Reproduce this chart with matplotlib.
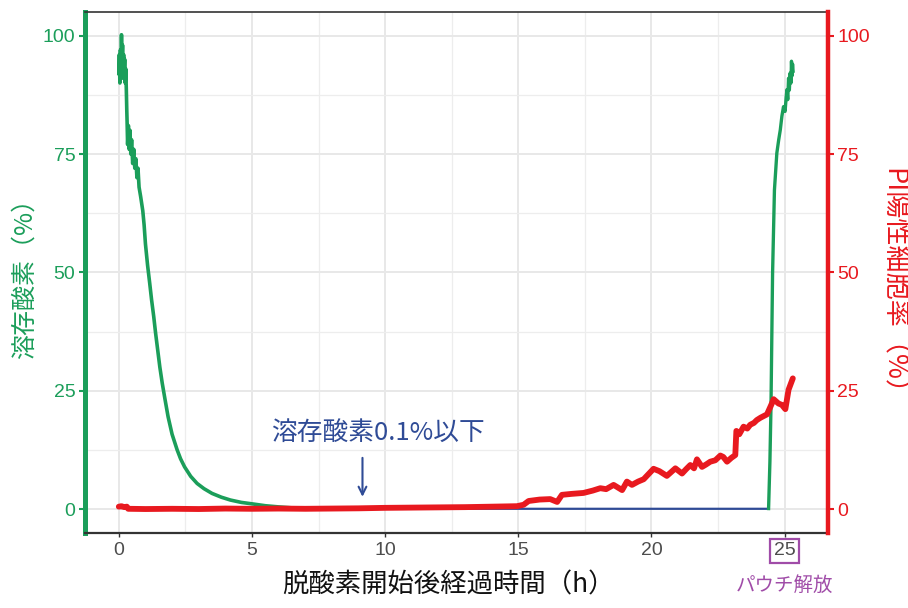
import matplotlib
matplotlib.use("Agg")
import matplotlib.pyplot as plt
import numpy as np

plt.rcParams['font.family'] = ['Noto Sans CJK JP', 'DejaVu Sans']

# ---- data ----
do_decay_t = [0.00, 0.02, 0.04, 0.06, 0.08, 0.10, 0.12, 0.14, 0.16, 0.18, 0.20, 0.22, 0.24, 0.26,
              0.28, 0.30, 0.31, 0.33, 0.36, 0.39, 0.42, 0.45, 0.48, 0.52, 0.56, 0.60, 0.64, 0.68,
              0.72, 0.76, 0.82, 0.90, 0.95, 1.00, 1.08, 1.16, 1.23, 1.31, 1.38, 1.46, 1.54, 1.63,
              1.74, 1.85, 2.00, 2.19, 2.32, 2.47, 2.70, 2.94, 3.20, 3.50, 3.85, 4.19, 4.60, 5.06,
              5.50, 6.00, 6.50, 6.90]
do_decay_v = [92, 96, 90, 97, 93, 100.2, 94, 98, 91, 96, 92, 95, 90, 93,
              89, 84, 82, 77, 81, 76, 80, 75, 78, 73, 76, 72, 74, 70,
              72, 68, 66, 63, 60, 56, 51.5, 47.7, 44.2, 40.7, 37.2, 33.6, 30.0, 26.6,
              23.0, 19.5, 15.8, 12.5, 10.6, 8.9, 6.9, 5.4, 4.3, 3.3, 2.5, 1.9, 1.4, 1.05,
              0.7, 0.45, 0.25, 0.15]

do_low_t = [6.90, 10.0, 15.0, 20.0, 24.40]
do_low_v = [0.08, 0.06, 0.05, 0.05, 0.05]

do_rise_t = [24.40, 24.45, 24.49, 24.55, 24.62, 24.71, 24.78, 24.84, 24.90, 24.96, 25.02, 25.06,
             25.09, 25.12, 25.15, 25.18, 25.21, 25.24, 25.26, 25.28, 25.30, 25.32]
do_rise_v = [0.1, 10, 21.6, 49.8, 67.4, 75.2, 78, 80.1, 83, 85, 84, 87,
             88.6, 86.5, 91, 88.5, 92.1, 90, 94.6, 91.5, 94, 92.5]

pi_t = [0.0, 0.1, 0.2, 0.3, 0.35, 1, 2, 3, 4, 5, 6, 7, 8, 9, 10, 11, 12, 13, 14, 14.95,
        15.2, 15.39, 15.8, 16.2, 16.46, 16.64, 17.0, 17.45, 17.8, 18.08, 18.3, 18.58, 18.9,
        19.08, 19.27, 19.5, 19.71, 20.08, 20.3, 20.58, 20.9, 21.15, 21.3, 21.46, 21.6, 21.71,
        21.9, 22.05, 22.21, 22.4, 22.59, 22.7, 22.84, 23.0, 23.15, 23.19, 23.3, 23.46, 23.6,
        23.71, 23.85, 23.96, 24.1, 24.34, 24.5, 24.59, 24.77, 24.9, 25.03, 25.15, 25.31]
pi_v = [0.5, 0.6, 0.4, 0.5, 0.05, 0.0, 0.05, 0.0, 0.1, 0.05, 0.1, 0.05, 0.1, 0.15, 0.25, 0.3,
        0.35, 0.4, 0.5, 0.6,
        0.9, 1.7, 2.0, 2.1, 1.5, 3.0, 3.2, 3.4, 3.9, 4.4, 4.2, 5.1, 4.0,
        5.8, 5.1, 5.8, 6.3, 8.5, 8.0, 7.0, 8.6, 7.5, 8.4, 9.3, 8.6, 10.5,
        8.9, 9.4, 10.0, 10.3, 11.3, 11.0, 10.0, 10.8, 11.4, 16.5, 15.8, 17.4, 17.0,
        17.8, 18.2, 18.8, 19.3, 20.0, 22.0, 23.2, 22.3, 22.0, 21.1, 25.2, 27.6]

y_ticks = [0, 25, 50, 75, 100]
y_minor = [12.5, 37.5, 62.5, 87.5]
x_ticks = [0, 5, 10, 15, 20, 25]
x_minor = [2.5, 7.5, 12.5, 17.5, 22.5]

GREEN = '#1b9e5a'
RED = '#e8191f'
BLUE = '#2f4b96'
PURPLE = '#a04ca8'
GRAY = '#4d4d4d'

fig = plt.figure(figsize=(9.08, 6.08), dpi=100)
ax = fig.add_axes([85/908, 1-532.7/608, (827.7-85)/908, (532.7-12)/608])

# grid
ax.set_xticks(x_ticks)
ax.set_xticks(x_minor, minor=True)
ax.set_yticks(y_ticks)
ax.set_yticks(y_minor, minor=True)
ax.set_xlim(-1.27, 26.62)
ax.set_ylim(-5, 105)
ax.grid(which='major', color='#e8e8e8', lw=1.4, zorder=0)
ax.grid(which='minor', color='#ededed', lw=0.9, zorder=0)
ax.set_axisbelow(True)

ax.plot(do_decay_t, do_decay_v, color=GREEN, lw=2.6, solid_joinstyle='round', zorder=3)
ax.plot(do_low_t, do_low_v, color=BLUE, lw=1.6, zorder=3)
ax.plot(do_rise_t, do_rise_v, color=GREEN, lw=2.4, solid_joinstyle='round', zorder=3)
ax.plot(pi_t, pi_v, color=RED, lw=4.2, solid_joinstyle='round', solid_capstyle='round', zorder=4)

# annotation
ax.text(9.73, 16.1, '溶存酸素0.1%以下', color=BLUE, fontsize=18.5, ha='center', va='center', zorder=5)
ax.annotate('', xy=(9.15, 2.0), xytext=(9.15, 11.4),
            arrowprops=dict(arrowstyle='->', color=BLUE, lw=1.5, mutation_scale=14), zorder=5)

# spines
for s in ['top', 'bottom']:
    ax.spines[s].set_color('#333333')
ax.spines['top'].set_linewidth(1.2)
ax.spines['bottom'].set_linewidth(1.6)
ax.spines['left'].set_color(GREEN)
ax.spines['left'].set_linewidth(3.6)
ax.spines['right'].set_visible(False)

ax.tick_params(axis='y', which='major', colors=GREEN, length=4, width=1.5,
               labelsize=14, labelcolor=GREEN, pad=3)
ax.tick_params(axis='x', which='major', colors='#333333', length=3, width=1.0,
               labelsize=14, labelcolor=GRAY, pad=4)
ax.tick_params(which='minor', length=0)
for lab in ax.get_xticklabels() + ax.get_yticklabels():
    lab.set_fontfamily('Liberation Sans')

ax2 = ax.twinx()
ax2.set_yticks(y_ticks)
ax2.set_ylim(-5, 105)
for s in ['left', 'top', 'bottom']:
    ax2.spines[s].set_visible(False)
ax2.spines['right'].set_color(RED)
ax2.spines['right'].set_linewidth(3.2)
ax2.tick_params(axis='y', colors=RED, length=4, width=1.5, labelsize=14, labelcolor=RED, pad=3)
for lab in ax2.get_yticklabels():
    lab.set_fontfamily('Liberation Sans')

# box around 25
fig.canvas.draw()
for lab in ax.get_xticklabels():
    if lab.get_text() == '25':
        lab.set_bbox(dict(boxstyle='square,pad=0.2', ec=PURPLE, fc='none', lw=1.6))

fig.text(448/908, 1-585/608, '脱酸素開始後経過時間（h）', fontsize=19, color='#111111',
         ha='center', va='center')
fig.text(784/908, 1-585/608, 'パウチ解放', fontsize=14, color=PURPLE, ha='center', va='center')
fig.text(25/908, 1-272/608, '溶存酸素（%）', fontsize=18, color=GREEN, rotation=90,
         ha='center', va='center')
fig.text(893/908, 1-288/608, 'PI陽性細胞率（%）', fontsize=19.5, color=RED, rotation=270,
         ha='center', va='center')

fig.savefig('out.png', dpi=100)
